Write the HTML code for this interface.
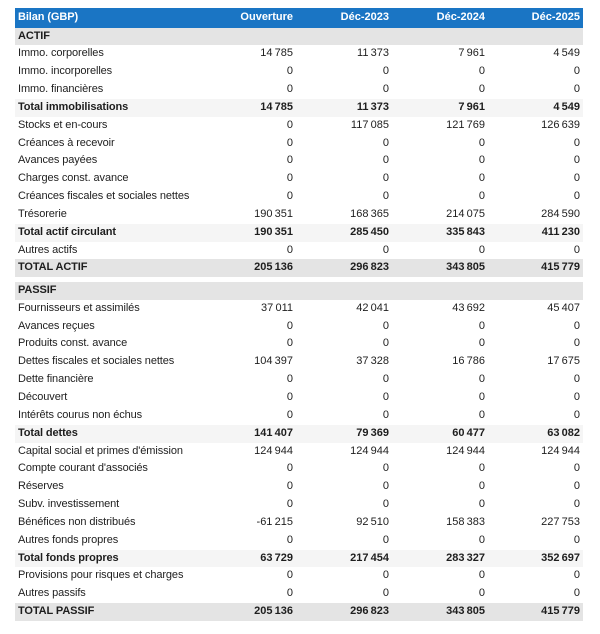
<!DOCTYPE html>
<html><head><meta charset="utf-8">
<style>
html,body{margin:0;padding:0;background:#fff;}
body{width:600px;height:634px;position:relative;overflow:hidden;font-family:"Liberation Sans",Arial,sans-serif;font-size:11px;color:#1e1e1e;}
#t{position:absolute;left:15px;top:8px;width:568px;}
.r{display:flex;height:17.85px;line-height:17.6px;white-space:nowrap;}
.r div{box-sizing:border-box;}
.l{width:185px;padding-left:3px;letter-spacing:-0.1px;}
.c{width:96px;text-align:right;padding-right:3px;}
.c:last-child{width:95px;}
.h{height:19.5px;line-height:18.6px;background:#1a75c4;color:#fff;font-weight:bold;}
.s{background:#e4e4e4;font-weight:bold;}
.t{background:#f5f5f5;font-weight:bold;}
.g{height:4.65px;}
</style></head><body>
<div id="t">
<div class="r h"><div class="l">Bilan (GBP)</div><div class="c">Ouverture</div><div class="c">Déc-2023</div><div class="c">Déc-2024</div><div class="c">Déc-2025</div></div>
<div class="r s"><div class="l">ACTIF</div><div class="c"></div><div class="c"></div><div class="c"></div><div class="c"></div></div>
<div class="r"><div class="l">Immo. corporelles</div><div class="c">14&thinsp;785</div><div class="c">11&thinsp;373</div><div class="c">7&thinsp;961</div><div class="c">4&thinsp;549</div></div>
<div class="r"><div class="l">Immo. incorporelles</div><div class="c">0</div><div class="c">0</div><div class="c">0</div><div class="c">0</div></div>
<div class="r"><div class="l">Immo. financières</div><div class="c">0</div><div class="c">0</div><div class="c">0</div><div class="c">0</div></div>
<div class="r t"><div class="l">Total immobilisations</div><div class="c">14&thinsp;785</div><div class="c">11&thinsp;373</div><div class="c">7&thinsp;961</div><div class="c">4&thinsp;549</div></div>
<div class="r"><div class="l">Stocks et en-cours</div><div class="c">0</div><div class="c">117&thinsp;085</div><div class="c">121&thinsp;769</div><div class="c">126&thinsp;639</div></div>
<div class="r"><div class="l">Créances à recevoir</div><div class="c">0</div><div class="c">0</div><div class="c">0</div><div class="c">0</div></div>
<div class="r"><div class="l">Avances payées</div><div class="c">0</div><div class="c">0</div><div class="c">0</div><div class="c">0</div></div>
<div class="r"><div class="l">Charges const. avance</div><div class="c">0</div><div class="c">0</div><div class="c">0</div><div class="c">0</div></div>
<div class="r"><div class="l">Créances fiscales et sociales nettes</div><div class="c">0</div><div class="c">0</div><div class="c">0</div><div class="c">0</div></div>
<div class="r"><div class="l">Trésorerie</div><div class="c">190&thinsp;351</div><div class="c">168&thinsp;365</div><div class="c">214&thinsp;075</div><div class="c">284&thinsp;590</div></div>
<div class="r t"><div class="l">Total actif circulant</div><div class="c">190&thinsp;351</div><div class="c">285&thinsp;450</div><div class="c">335&thinsp;843</div><div class="c">411&thinsp;230</div></div>
<div class="r"><div class="l">Autres actifs</div><div class="c">0</div><div class="c">0</div><div class="c">0</div><div class="c">0</div></div>
<div class="r s"><div class="l">TOTAL ACTIF</div><div class="c">205&thinsp;136</div><div class="c">296&thinsp;823</div><div class="c">343&thinsp;805</div><div class="c">415&thinsp;779</div></div>
<div class="g"></div>
<div class="r s"><div class="l">PASSIF</div><div class="c"></div><div class="c"></div><div class="c"></div><div class="c"></div></div>
<div class="r"><div class="l">Fournisseurs et assimilés</div><div class="c">37&thinsp;011</div><div class="c">42&thinsp;041</div><div class="c">43&thinsp;692</div><div class="c">45&thinsp;407</div></div>
<div class="r"><div class="l">Avances reçues</div><div class="c">0</div><div class="c">0</div><div class="c">0</div><div class="c">0</div></div>
<div class="r"><div class="l">Produits const. avance</div><div class="c">0</div><div class="c">0</div><div class="c">0</div><div class="c">0</div></div>
<div class="r"><div class="l">Dettes fiscales et sociales nettes</div><div class="c">104&thinsp;397</div><div class="c">37&thinsp;328</div><div class="c">16&thinsp;786</div><div class="c">17&thinsp;675</div></div>
<div class="r"><div class="l">Dette financière</div><div class="c">0</div><div class="c">0</div><div class="c">0</div><div class="c">0</div></div>
<div class="r"><div class="l">Découvert</div><div class="c">0</div><div class="c">0</div><div class="c">0</div><div class="c">0</div></div>
<div class="r"><div class="l">Intérêts courus non échus</div><div class="c">0</div><div class="c">0</div><div class="c">0</div><div class="c">0</div></div>
<div class="r t"><div class="l">Total dettes</div><div class="c">141&thinsp;407</div><div class="c">79&thinsp;369</div><div class="c">60&thinsp;477</div><div class="c">63&thinsp;082</div></div>
<div class="r"><div class="l">Capital social et primes d'émission</div><div class="c">124&thinsp;944</div><div class="c">124&thinsp;944</div><div class="c">124&thinsp;944</div><div class="c">124&thinsp;944</div></div>
<div class="r"><div class="l">Compte courant d'associés</div><div class="c">0</div><div class="c">0</div><div class="c">0</div><div class="c">0</div></div>
<div class="r"><div class="l">Réserves</div><div class="c">0</div><div class="c">0</div><div class="c">0</div><div class="c">0</div></div>
<div class="r"><div class="l">Subv. investissement</div><div class="c">0</div><div class="c">0</div><div class="c">0</div><div class="c">0</div></div>
<div class="r"><div class="l">Bénéfices non distribués</div><div class="c">-61&thinsp;215</div><div class="c">92&thinsp;510</div><div class="c">158&thinsp;383</div><div class="c">227&thinsp;753</div></div>
<div class="r"><div class="l">Autres fonds propres</div><div class="c">0</div><div class="c">0</div><div class="c">0</div><div class="c">0</div></div>
<div class="r t"><div class="l">Total fonds propres</div><div class="c">63&thinsp;729</div><div class="c">217&thinsp;454</div><div class="c">283&thinsp;327</div><div class="c">352&thinsp;697</div></div>
<div class="r"><div class="l">Provisions pour risques et charges</div><div class="c">0</div><div class="c">0</div><div class="c">0</div><div class="c">0</div></div>
<div class="r"><div class="l">Autres passifs</div><div class="c">0</div><div class="c">0</div><div class="c">0</div><div class="c">0</div></div>
<div class="r s"><div class="l">TOTAL PASSIF</div><div class="c">205&thinsp;136</div><div class="c">296&thinsp;823</div><div class="c">343&thinsp;805</div><div class="c">415&thinsp;779</div></div>
</div>
</body></html>
